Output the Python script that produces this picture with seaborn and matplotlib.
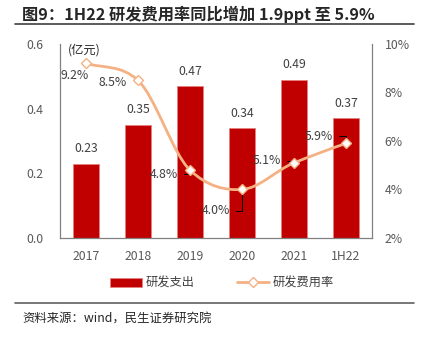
import numpy as np
import pandas as pd
import matplotlib
matplotlib.use("Agg")
import matplotlib.pyplot as plt
import seaborn as sns
from matplotlib.path import Path
from matplotlib.patches import PathPatch
from matplotlib.lines import Line2D
from matplotlib.patches import Patch

categories = ["2017", "2018", "2019", "2020", "2021", "1H22"]
rd_expense = [0.23, 0.35, 0.47, 0.34, 0.49, 0.37]
rd_rate = [9.2, 8.5, 4.8, 4.0, 5.1, 5.9]
left_ticks = [0.0, 0.2, 0.4, 0.6]
right_ticks = [2, 4, 6, 8, 10]

sns.set_theme(style="white")
plt.rcParams["font.family"] = ["Noto Sans CJK SC", "DejaVu Sans"]

BAR = "#C00000"
LINE = "#F4B183"
TXT = "#404040"
AX = "#808080"

W, H = 429, 341
fig = plt.figure(figsize=(W / 100, H / 100), dpi=100)
ax = fig.add_axes([60 / W, 103 / H, 312 / W, 194 / H])

df = pd.DataFrame({"cat": categories, "val": rd_expense})
sns.barplot(data=df, x="cat", y="val", order=categories, color=BAR,
            width=0.5, ax=ax, saturation=1, edgecolor="#E88080", linewidth=0.6)
ax.set_ylim(0, 0.6)
ax.set_yticks(left_ticks)
ax.set_yticklabels([f"{t:.1f}" for t in left_ticks])
ax.set_xlabel("")
ax.set_ylabel("")
ax.set_xlim(-0.5, len(categories) - 0.5)
for c in ax.containers:
    ax.bar_label(c, labels=[f"{v:.2f}" for v in rd_expense], padding=6,
                 fontsize=8.8, color=TXT)

ax.tick_params(axis="y", length=0, pad=12, labelsize=8.8, labelcolor="#595959")
ax.tick_params(axis="x", length=0, pad=9, labelsize=8.8, labelcolor="#595959")
for s in ["top", "right"]:
    ax.spines[s].set_visible(False)
for s in ["left", "bottom"]:
    ax.spines[s].set_color(AX)
    ax.spines[s].set_linewidth(0.9)

ax2 = ax.twinx()
ax2.set_ylim(2, 10)
ax2.set_yticks(right_ticks)
ax2.set_yticklabels([f"{t}%" for t in right_ticks])
ax2.tick_params(axis="y", length=0, pad=9, labelsize=8.8, labelcolor="#595959")
for s in ["top", "left", "bottom"]:
    ax2.spines[s].set_visible(False)
ax2.spines["right"].set_color(AX)
ax2.spines["right"].set_linewidth(0.9)
ax2.grid(False)
ax.grid(False)

# smooth curve through the data points (rendering only)
xs = np.arange(len(categories), dtype=float)
ys = np.array(rd_rate, dtype=float)
verts = [(xs[0], ys[0])]
codes = [Path.MOVETO]
n = len(xs)
def tangent(i):
    if i == 0:
        return (ys[1] - ys[0])
    if i == n - 1:
        return (ys[-1] - ys[-2])
    return (ys[i + 1] - ys[i - 1]) / 2
for i in range(n - 1):
    t0 = tangent(i) * 0.6
    t1 = tangent(i + 1) * 0.6
    verts += [(xs[i] + 1 / 3, ys[i] + t0 / 3 * 1.5),
              (xs[i + 1] - 1 / 3, ys[i + 1] - t1 / 3 * 1.5),
              (xs[i + 1], ys[i + 1])]
    codes += [Path.CURVE4] * 3
ax2.add_patch(PathPatch(Path(verts, codes), facecolor="none",
                        edgecolor=LINE, lw=2.0, zorder=3))
ax2.plot(xs, ys, linestyle="none", marker="D", markersize=5,
         markerfacecolor="white", markeredgecolor=LINE, markeredgewidth=1.0,
         zorder=4)

offsets = [(-11, -12, False), (-25, -2, False), (-26, -4, True),
           (-26, -21, True), (-27, 2, True), (-27, 7, True)]
for i, (dx, dy, lead) in enumerate(offsets):
    kw = dict(xy=(xs[i], ys[i]), xytext=(dx, dy), textcoords="offset pixels",
              ha="center", va="center", fontsize=8.8, color=TXT)
    if lead:
        kw["arrowprops"] = dict(arrowstyle="-", color="black", lw=0.7,
                                shrinkA=2, shrinkB=1,
                                connectionstyle="angle,angleA=0,angleB=90,rad=0",
                                relpos=(1, 0.5))
    ax2.annotate(f"{rd_rate[i]:.1f}%", **kw)

fig.text(68 / W, 1 - 50 / H, "(亿元)", fontsize=8.8, color="#262626",
         ha="left", va="center")

# title and rules
fig.text(22 / W, 1 - 14 / H, "图9：1H22 研发费用率同比增加 1.9ppt 至 5.9%",
         fontsize=11.7, fontweight="bold", color="#262626", ha="left", va="center")
fig.add_artist(Line2D([15 / W, 414 / W], [1 - 24 / H, 1 - 24 / H],
                      color="#404040", lw=1.2))
fig.add_artist(Line2D([15 / W, 414 / W], [1 - 303 / H, 1 - 303 / H],
                      color="#606060", lw=1.2))
fig.text(22 / W, 1 - 318 / H, "资料来源：wind，民生证券研究院",
         fontsize=8.9, color="#262626", ha="left", va="center")

handles = [Patch(facecolor=BAR, edgecolor="#E88080", lw=0.6),
           Line2D([0], [0], color=LINE, lw=2, marker="D", markersize=5,
                  markerfacecolor="white", markeredgecolor=LINE)]
fig.legend(handles, ["研发支出", "研发费用率"], loc="center",
           bbox_to_anchor=(222 / W, 1 - 283 / H), ncol=2, frameon=False,
           fontsize=8.8, handlelength=2.6, columnspacing=3.5,
           handletextpad=0.3, labelcolor="#404040")

fig.savefig("out.png", dpi=100)
